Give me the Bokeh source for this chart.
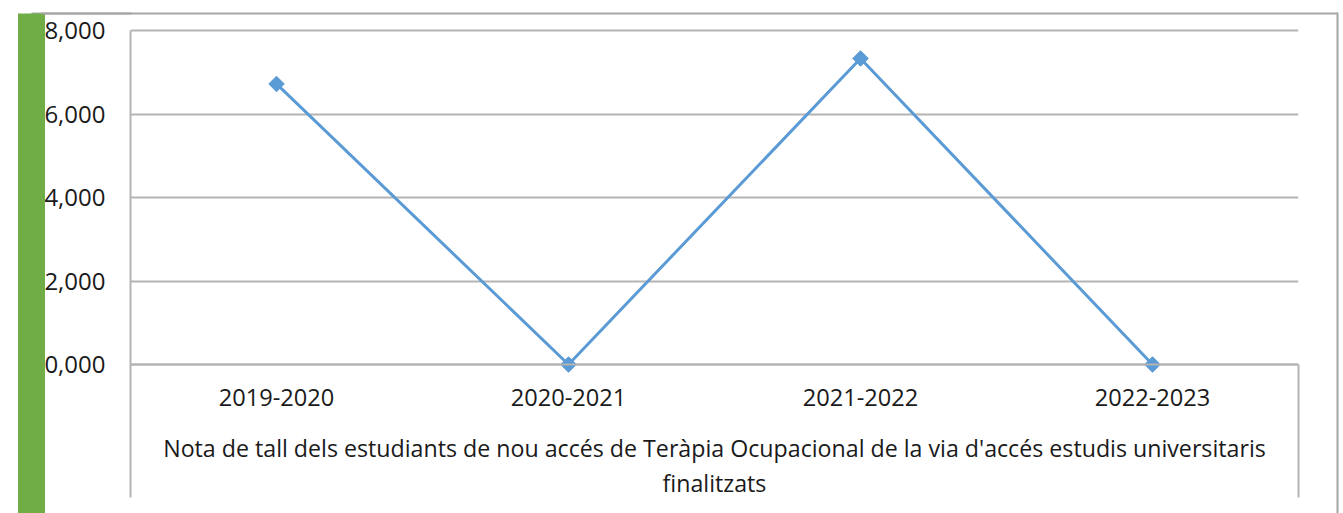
from bokeh.plotting import figure
from bokeh.models import FixedTicker, CustomJSTickFormatter, LinearAxis, Range1d
from bokeh.embed import file_html
from bokeh.resources import INLINE

# ---- data ----
categories = ["2019-2020", "2020-2021", "2021-2022", "2022-2023"]
values = [6.72, 0.0, 7.33, 0.0]
y_ticks = [0, 2, 4, 6, 8]
x_title = ("Nota de tall dels estudiants de nou accés de Teràpia Ocupacional de la via d'accés estudis universitaris\n"
           "finalitzats")

# ---- style / layout ----
FONT = "Open Sans"
GRID = "#b4b4b4"
BORDER = "#a6a6a6"
BLUE = "#5b9bd5"
GREEN = "#70ad47"
TEXT = "#1a1a1a"

W, H = 1340, 513
FRAME_L, FRAME_R = 130, 1298      # pixel edges of the plotting area
Y_ZERO, Y_TOP = 364, 30           # pixel rows of 0 and of the top tick
PPU = (Y_ZERO - Y_TOP) / y_ticks[-1]

def yv(py):   # pixel row -> y value
    return (Y_ZERO - py) / PPU

p = figure(x_range=categories, y_range=Range1d(yv(H), yv(0)), width=W, height=H,
           title=None, output_backend="svg", toolbar_location=None,
           min_border_left=FRAME_L, min_border_right=W - FRAME_R,
           min_border_top=0, min_border_bottom=0)
p.x_range.range_padding = 0
p.outline_line_color = None
p.background_fill_color = "white"
p.border_fill_color = "white"

p.xgrid.grid_line_color = None
p.ygrid.ticker = FixedTicker(ticks=y_ticks)
p.ygrid.grid_line_color = GRID
p.ygrid.grid_line_width = 2

# value axis
p.yaxis.ticker = FixedTicker(ticks=y_ticks)
p.yaxis.bounds = (yv(497), y_ticks[-1])
p.yaxis.formatter = CustomJSTickFormatter(code="return tick.toFixed(3).replace('.', ',');")
p.yaxis.major_tick_out = 0
p.yaxis.major_tick_in = 0
p.yaxis.major_tick_line_color = None
p.yaxis.minor_tick_line_color = None
p.yaxis.axis_line_color = GRID
p.yaxis.axis_line_width = 2
p.yaxis.major_label_standoff = 25
p.yaxis.major_label_text_font = FONT
p.yaxis.major_label_text_font_size = "24px"
p.yaxis.major_label_text_color = TEXT

# category axis, crossing at 0
p.xaxis.fixed_location = 0
p.xaxis.major_tick_line_color = None
p.xaxis.minor_tick_line_color = None
p.xaxis.axis_line_color = GRID
p.xaxis.axis_line_width = 2
p.xaxis.major_label_standoff = 18
p.xaxis.major_label_text_font = FONT
p.xaxis.major_label_text_font_size = "23.6px"
p.xaxis.major_label_text_color = TEXT
p.xaxis.axis_label = x_title
p.xaxis.axis_label_text_font = FONT
p.xaxis.axis_label_text_font_size = "23.2px"
p.xaxis.axis_label_text_font_style = "normal"
p.xaxis.axis_label_text_color = TEXT
p.xaxis.axis_label_text_line_height = 1.1
p.xaxis.axis_label_standoff = 23

p.line(categories, values, line_color=BLUE, line_width=3)
p.scatter(categories, values, marker="square", angle=0.785398, size=11,
          fill_color=BLUE, line_color=BLUE)

# ---- decorative rules drawn as extra (label-less) axes in the side panels ----
def rule_axis(side, lo, hi, line_color, width, tick_color=None, gap=0, ticks=(), tick_in=0):
    ax = LinearAxis(bounds=(lo, hi),
                    ticker=FixedTicker(ticks=list(ticks)),
                    formatter=CustomJSTickFormatter(code="return '';"),
                    axis_line_color=line_color, axis_line_width=width,
                    major_tick_in=tick_in, major_tick_out=gap,
                    major_tick_line_color=tick_color, major_tick_line_width=2,
                    minor_tick_line_color=None, major_label_standoff=0)
    p.add_layout(ax, side)
    return ax

# left: spacer whose tick is the left piece of the top border, then the green side bar
rule_axis("left", yv(H), yv(13), None, 1, tick_color=BORDER, gap=10,
          ticks=[yv(13)], tick_in=FRAME_L - 40)
rule_axis("left", yv(H), yv(13), GREEN, 27)
# right: divider below the category axis (its hidden tick spaces out the outer border)
rule_axis("right", yv(497), 0, GRID, 2, tick_color=None, gap=1337 - FRAME_R, ticks=[-1])
# right: outer border, its single tick drawn inward as the top border
rule_axis("right", yv(H), yv(12), BORDER, 2, tick_color=BORDER,
          ticks=[yv(13)], tick_in=1337 - 41)

open("out.html", "w").write(file_html(p, INLINE))
